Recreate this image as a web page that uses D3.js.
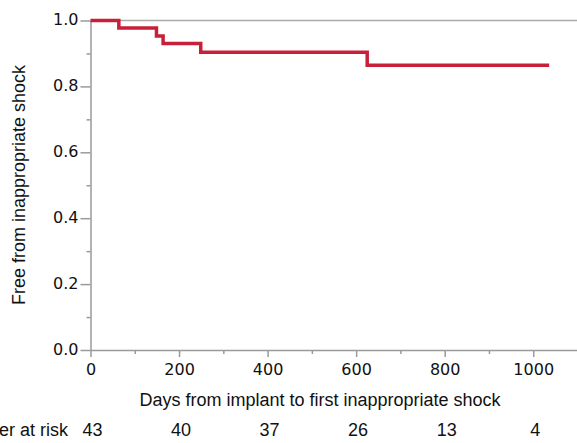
<!DOCTYPE html>
<html>
<head>
<meta charset="utf-8">
<script src="https://cdn.jsdelivr.net/npm/d3@7"></script>
<style>
  body { margin: 0; background: #fff; }
  .title { font-family: "Liberation Sans", Arial, sans-serif; font-size: 18px; fill: #111; }
</style>
</head>
<body>
<div class="canvas"></div>
<script>
// Kaplan-Meier steps (days, survival)
const days = [0, 64, 149, 164, 249, 625, 1036];
const survival = [1.0, 0.977, 0.953, 0.930, 0.904, 0.864, 0.864];

// number at risk row
const riskDays = [0, 200, 400, 600, 800, 1000];
const atRisk = [43, 40, 37, 26, 13, 4];

const xTicks = [0, 200, 400, 600, 800, 1000];
const yTicks = [0, 0.2, 0.4, 0.6, 0.8, 1.0];

const width = 577;
const height = 443;

const svg = d3.select('.canvas').append('svg')
  .attr('width', width)
  .attr('height', height);

// scales
const x = d3.scaleLinear().domain([0, 1100]).range([90.5, 577.5]);
const y = d3.scaleLinear().domain([0, 1]).range([350, 20.5]);

const axisColor = '#9a9a9a';

// top frame line
svg.append('line')
  .attr('x1', x(0)).attr('x2', width)
  .attr('y1', y(1)).attr('y2', y(1))
  .attr('stroke', '#aaa')
  .attr('stroke-width', 1.5);

// minor ticks
const xMinor = d3.axisBottom(x).tickValues(d3.range(100, 1100, 200)).tickSize(4).tickFormat('');
const yMinor = d3.axisLeft(y).tickValues(d3.range(0.1, 1, 0.2)).tickSize(4).tickFormat('');

svg.append('g')
  .attr('transform', `translate(0,${y(0)})`)
  .call(xMinor)
  .call(g => g.select('.domain').remove())
  .call(g => g.selectAll('line').attr('stroke', axisColor).attr('stroke-width', 1.5));
svg.append('g')
  .attr('transform', `translate(${x(0)},0)`)
  .call(yMinor)
  .call(g => g.select('.domain').remove())
  .call(g => g.selectAll('line').attr('stroke', axisColor).attr('stroke-width', 1.5));

// major axes
const xAxis = d3.axisBottom(x).tickValues(xTicks).tickSize(7).tickSizeOuter(0).tickPadding(7)
  .tickFormat(d3.format('d'));
const yAxis = d3.axisLeft(y).tickValues(yTicks).tickSize(10).tickSizeOuter(0).tickPadding(2)
  .tickFormat(d3.format('.1f'));

// shared styling for the major axes
const styleAxis = g => {
  g.attr('font-family', '"DejaVu Sans", sans-serif').attr('font-size', 16);
  g.select('.domain').attr('stroke', axisColor).attr('stroke-width', 1.5);
  g.selectAll('.tick line').attr('stroke', axisColor).attr('stroke-width', 1.5);
  g.selectAll('.tick text').attr('fill', '#111');
};

svg.append('g')
  .attr('transform', `translate(0,${y(0)})`)
  .call(xAxis)
  .call(styleAxis);

svg.append('g')
  .attr('transform', `translate(${x(0)},0)`)
  .call(yAxis)
  .call(styleAxis)
  .call(g => g.selectAll('.tick text').attr('dy', '0.25em'));

// survival curve
const line = d3.line()
  .x((d, i) => x(d))
  .y((d, i) => y(survival[i]))
  .curve(d3.curveStepAfter);

svg.append('path')
  .datum(days)
  .attr('fill', 'none')
  .attr('stroke', '#c8203a')
  .attr('stroke-width', 3.5)
  .attr('d', line);

// axis titles
svg.append('text')
  .attr('class', 'title')
  .attr('x', 320)
  .attr('y', 406)
  .attr('text-anchor', 'middle')
  .text('Days from implant to first inappropriate shock');

svg.append('text')
  .attr('class', 'title')
  .attr('transform', 'translate(25,185) rotate(-90)')
  .attr('text-anchor', 'middle')
  .text('Free from inappropriate shock');

// number at risk
svg.append('text')
  .attr('class', 'title')
  .attr('x', 68)
  .attr('y', 436)
  .attr('text-anchor', 'end')
  .text('Number at risk');

svg.selectAll('.risk')
  .data(atRisk)
  .enter()
  .append('text')
  .attr('class', 'title risk')
  .attr('x', (d, i) => x(riskDays[i]) + 2)
  .attr('y', 436)
  .attr('text-anchor', 'middle')
  .text(d => d);
</script>
</body>
</html>
